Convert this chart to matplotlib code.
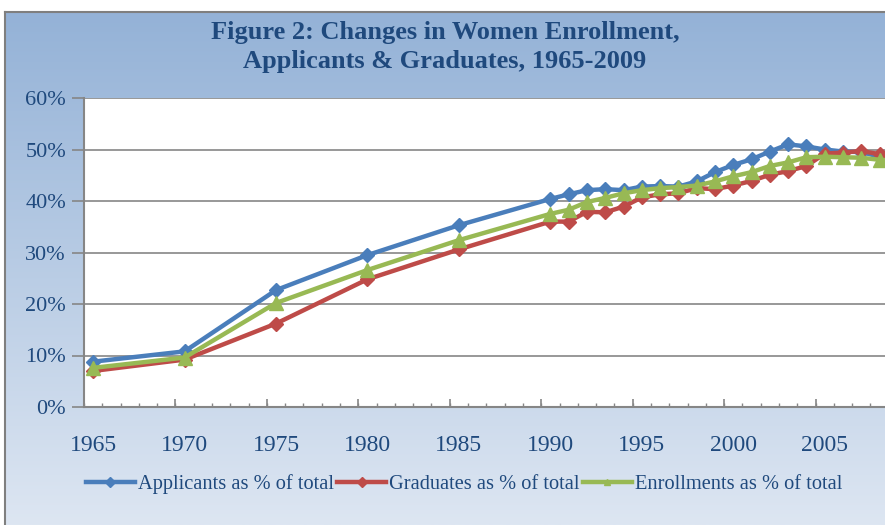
import numpy as np
import matplotlib
matplotlib.use("Agg")
import matplotlib.pyplot as plt
from matplotlib.ticker import FixedLocator, PercentFormatter, NullFormatter

# survey years (yearly only from 1990 on)
years = [1965, 1970, 1975, 1980, 1985, 1990, 1991, 1992, 1993, 1994, 1995,
         1996, 1997, 1998, 1999, 2000, 2001, 2002, 2003, 2004, 2005, 2006,
         2007, 2008, 2009]

# women as % of total
applicants = [8.8, 10.8, 22.7, 29.5, 35.3, 40.4, 41.3, 42.1, 42.3, 42.1, 42.8,
              42.9, 42.8, 43.8, 45.6, 47.0, 48.1, 49.6, 51.0, 50.6, 50.0, 49.6,
              49.5, 48.6, 48.0]
graduates = [7.0, 9.2, 16.2, 24.8, 30.6, 36.0, 36.0, 37.9, 37.8, 38.9, 40.7,
             41.3, 41.5, 42.5, 42.3, 43.0, 43.9, 45.1, 45.8, 46.8, 49.2, 49.4,
             49.7, 49.1, 48.0]
enrollments = [7.6, 9.6, 20.2, 26.6, 32.4, 37.5, 38.3, 39.8, 40.6, 41.5, 42.1,
               42.5, 42.7, 43.0, 43.8, 44.8, 45.6, 46.8, 47.5, 48.5, 48.6, 48.5,
               48.4, 48.0, 47.8]

label_years = [1965, 1970, 1975, 1980, 1985, 1990, 1995, 2000, 2005]

title = "Figure 2: Changes in Women Enrollment,\nApplicants & Graduates, 1965-2009"
names = ["Applicants as % of total", "Graduates as % of total",
         "Enrollments as % of total"]

txt_color = "#1f497d"
grid_color = "#868686"
plt.rcParams["font.family"] = ["Liberation Serif", "DejaVu Serif"]

W, H = 885, 525
fig = plt.figure(figsize=(W / 100, H / 100), dpi=100)

# gradient background of the chart area (white strip at top and left)
bg = fig.add_axes([5 / W, 0, 1 - 5 / W, (H - 12) / H])
grad = np.linspace(0, 1, 256).reshape(-1, 1)
top = np.array([0x94, 0xb2, 0xd7]) / 255
bot = np.array([0xdd, 0xe6, 0xf2]) / 255
rgb = top[None, None, :] * (1 - grad[:, :, None]) + bot[None, None, :] * grad[:, :, None]
bg.imshow(rgb, aspect="auto", extent=[0, 1, 0, 1])
bg.set_xticks([])
bg.set_yticks([])
for side in ["right", "bottom"]:
    bg.spines[side].set_visible(False)
for side in ["left", "top"]:
    bg.spines[side].set_color("#7f7f7f")
    bg.spines[side].set_linewidth(1.5)

# plot area, runs past the right edge like the cropped original
left, right = 84, 907
ax = fig.add_axes([left / W, (H - 407) / H, (right - left) / W, 309 / H])
ax.set_facecolor("white")

ax.plot(years, applicants, color="#4a7ebb", lw=3.2, marker="D", ms=7.5, zorder=3)
ax.plot(years, graduates, color="#be4b48", lw=3.2, marker="D", ms=7.5, zorder=3)
ax.plot(years, enrollments, color="#98b954", lw=3.2, marker="^", ms=9.5, zorder=4)

ax.set_xlim(1964.5, 2009.5)
ax.set_ylim(0, 60)
ax.set_yticks(np.arange(0, 61, 10))
ax.yaxis.set_major_formatter(PercentFormatter(decimals=0))
ax.yaxis.grid(True, color=grid_color, lw=1.2)
ax.set_axisbelow(True)

# labels at category centres, small ticks at every category boundary
ax.set_xticks(label_years)
ax.set_xticklabels([str(y) for y in label_years])
ax.xaxis.set_minor_locator(FixedLocator(np.arange(1964.5, 2010, 1)))
ax.tick_params(axis="x", which="major", length=0, pad=20, labelsize=17,
               labelcolor=txt_color)
ax.tick_params(axis="x", which="minor", direction="in", length=3, width=1,
               color=grid_color)
ax.tick_params(axis="y", direction="out", length=9, width=1.2,
               color=grid_color, pad=4, labelsize=16, labelcolor=txt_color)

# longer ticks every five categories
sec = ax.secondary_xaxis("bottom")
sec.xaxis.set_major_locator(FixedLocator([y - 0.5 for y in label_years]))
sec.xaxis.set_major_formatter(NullFormatter())
sec.tick_params(direction="in", length=6, width=1.2, color=grid_color)
sec.spines["bottom"].set_visible(False)

for side in ["top", "right"]:
    ax.spines[side].set_visible(False)
for side in ["left", "bottom"]:
    ax.spines[side].set_color(grid_color)
    ax.spines[side].set_linewidth(1.5)

fig.text(445 / W, 1 - 47 / H, title, ha="center", va="center", fontsize=19,
         fontweight="bold", color=txt_color, linespacing=1.35)

leg = fig.legend(names, loc="center", bbox_to_anchor=(464 / W, 1 - 484 / H),
                 ncol=3, frameon=False, fontsize=14.7, handlelength=2.4,
                 handletextpad=0.15, columnspacing=0.15, labelcolor=txt_color)
for h in leg.legend_handles:
    h.set_markersize(5)

fig.savefig("out.png", dpi=100)
